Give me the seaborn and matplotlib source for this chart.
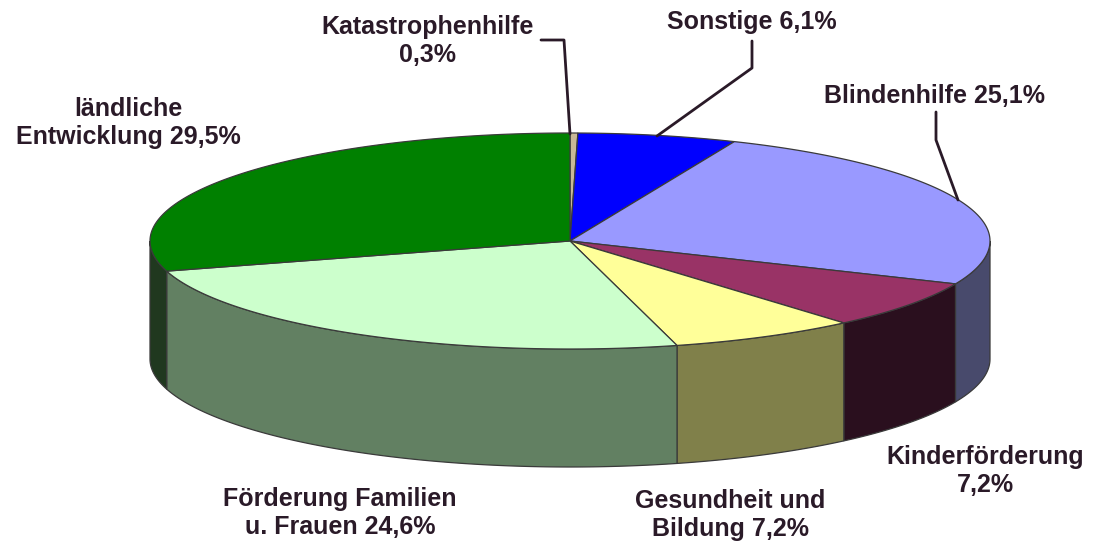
import numpy as np
import matplotlib
matplotlib.use("Agg")
import matplotlib.pyplot as plt
import seaborn as sns

# shares in percent, clockwise from 12 o'clock
categories = [
    "Katastrophenhilfe",
    "Sonstige",
    "Blindenhilfe",
    "Kinderförderung",
    "Gesundheit und Bildung",
    "Förderung Familien u. Frauen",
    "ländliche Entwicklung",
]
shares = [0.3, 6.1, 25.1, 7.2, 7.2, 24.6, 29.5]
top_colors = ["#c8b898", "#0000ff", "#9999ff", "#993366", "#ffff99", "#ccffcc", "#008000"]
side_colors = ["#706050", "#000080", "#484a6c", "#2a0f1e", "#80804a", "#628062", "#20381f"]
label_texts = [
    "Katastrophenhilfe\n0,3%",
    "Sonstige 6,1%",
    "Blindenhilfe 25,1%",
    "Kinderförderung\n7,2%",
    "Gesundheit und\nBildung 7,2%",
    "Förderung Familien\nu. Frauen 24,6%",
    "ländliche\nEntwicklung 29,5%",
]

# label placement (pixel coords) and leader lines
label_pos = [(428, 41), (752, 22), (935, 96), (985, 471), (730, 515), (340, 513), (128, 123)]
leaders = {
    0: [(541, 40), (564, 40), (570, 134)],
    1: [(752, 41), (752, 68), (657, 136)],
    2: [(936, 112), (936, 140), (958, 200)],
}

sns.set_theme(style="white")
plt.rcParams["font.family"] = ["Liberation Sans", "DejaVu Sans"]

fig = plt.figure(figsize=(10.95, 5.47), dpi=100)
ax = fig.add_axes([0, 0, 1, 1])
ax.set_xlim(0, 1095)
ax.set_ylim(547, 0)
ax.axis("off")

cx, cy, a, b, depth = 570, 241, 420, 108, 118
edge = dict(edgecolor="#3a3a3a", linewidth=0.9)


def arc(t0, t1):
    n = max(int(abs(t1 - t0) * 2), 3)
    t = np.radians(np.linspace(t0, t1, n))
    return cx + a * np.sin(t), cy - b * np.cos(t)


bounds = np.concatenate([[0], np.cumsum(shares)]) / 100 * 360

# front wall (visible from 90 to 270 degrees)
for i in range(len(shares)):
    lo, hi = max(bounds[i], 90), min(bounds[i + 1], 270)
    if lo >= hi:
        continue
    x, y = arc(lo, hi)
    ax.fill(np.concatenate([x, x[::-1]]), np.concatenate([y, y[::-1] + depth]),
            facecolor=side_colors[i], **edge)

# top faces
for i in range(len(shares)):
    x, y = arc(bounds[i], bounds[i + 1])
    ax.fill(np.concatenate([[cx], x]), np.concatenate([[cy], y]),
            facecolor=top_colors[i], **edge)

for i, pts in leaders.items():
    xs, ys = zip(*pts)
    ax.plot(xs, ys, color="#2a1a28", lw=2)

for txt, (x, y) in zip(label_texts, label_pos):
    ax.text(x, y, txt, ha="center", va="center", fontsize=18, fontweight="bold",
            color="#2a1a28", linespacing=1.25)

fig.savefig("out.png", dpi=100, facecolor="white")
